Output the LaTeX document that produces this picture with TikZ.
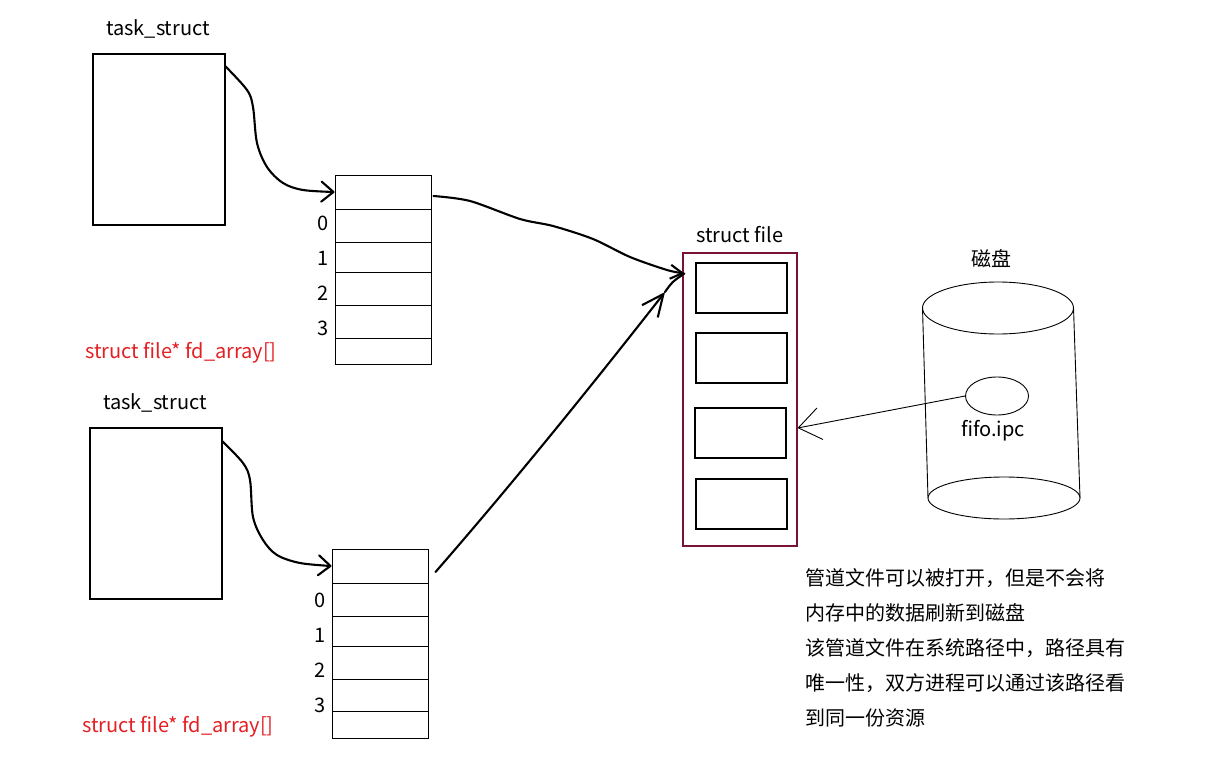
\documentclass[tikz,border=0pt]{standalone}
\usepackage{fontspec}
\setmainfont{Noto Sans CJK SC}
\usetikzlibrary{arrows.meta,shapes.geometric,calc}
\definecolor{labred}{RGB}{228,32,36}
\definecolor{maroon}{RGB}{122,18,52}
\begin{document}
\begin{tikzpicture}[x=1pt,y=1pt,
  tsbox/.style={draw=black,line width=1.1pt,minimum width=132pt,minimum height=171pt,inner sep=0pt},
  cell/.style={draw=black,line width=1pt,minimum width=96pt,inner sep=0pt},
  fbox/.style={draw=black,line width=1.1pt,minimum width=91pt,minimum height=50pt,inner sep=0pt},
  lbl/.style={font=\fontsize{20}{24}\selectfont,inner sep=0pt},
  redlbl/.style={lbl,text=labred,anchor=west},
  cntext/.style={font=\fontsize{20}{24}\selectfont,inner sep=0pt,anchor=west},
  hand/.style={line width=2.1pt,line cap=round,line join=round},
  cyl/.style={line width=0.9pt},
  handhead/.style={-{Straight Barb[length=12pt,width=20pt,line width=2.1pt,round]}}
]
\useasboundingbox[fill=white] (0,0) rectangle (1220,-765);

% task_struct boxes
\node[lbl] (tl1) at (158,-29) {task\_struct};
\node[tsbox] (ts1) at (159,-139.5) {};
\node[lbl] (tl2) at (155,-403) {task\_struct};
\node[tsbox] (ts2) at (156,-513.5) {};

% fd arrays
\foreach \n/\a/\b in {0/175/209,1/209/242,2/242/272,3/272/305,4/305/338,5/338/364}
  \node[cell,minimum height={\b-\a}] (ta\n) at (383,{-(\a+\b)/2}) {};
\foreach \n/\a/\b in {0/549/583,1/583/616,2/616/646,3/646/679,4/679/711,5/711/738}
  \node[cell,minimum height={\b-\a}] (tb\n) at (380,{-(\a+\b)/2}) {};

\foreach \d/\y in {0/223,1/258,2/293,3/328}
  \node[lbl] (na\d) at (323,-\y) {\d};
\foreach \d/\y in {0/600,1/635,2/670,3/705}
  \node[lbl] (nb\d) at (320,-\y) {\d};

\node[redlbl] (ra) at (85,-353) {struct file* fd\_array[]};
\node[redlbl] (rb) at (82,-727) {struct file* fd\_array[]};

% struct file
\node[lbl] (sfl) at (740,-235) {struct file};
\node[draw=maroon,line width=1.1pt,minimum width=114pt,minimum height=293pt,inner sep=0pt] (sf) at (740,-399.5) {};
\node[fbox] (f1) at (741.5,-288) {};
\node[fbox] (f2) at (741.5,-358) {};
\node[fbox] (f3) at (740.5,-433) {};
\node[fbox] (f4) at (741.5,-504) {};

% disk
\node[lbl] (dl) at (991,-259) {磁盘};
\draw[cyl] (998,-308) ellipse [x radius=75.5, y radius=26];
\draw[cyl] (1004,-498) ellipse [x radius=76, y radius=21];
\draw[cyl] (922.5,-308) -- (928,-498);
\draw[cyl] (1073.5,-308) -- (1080,-498);
\node[draw=black,line width=0.9pt,ellipse,minimum width=63pt,minimum height=38pt,inner sep=0pt] (fifo) at (997,-396) {};
\node[lbl] (fifol) at (993,-431) {fifo.ipc};

% connector end points
\coordinate (t1s) at ($(ts1.north east)+(0,-13)$);
\coordinate (t2s) at ($(ts2.north east)+(0,-14)$);
\coordinate (ta0s) at ($(ta0.east)+(2,-4)$);
\coordinate (tb0s) at ($(tb0.east)+(7,-6)$);
\coordinate (sfin) at ($(sf.north west)+(2,-21)$);
\coordinate (mid) at (665,-292);
\coordinate (fin) at ($(sf.east |- f3.center)+(0,5)$);

% hand drawn arrows
\draw[hand,handhead] plot[smooth,tension=0.55] coordinates
  {(t1s) (247,-90) (253,-107) (257,-143) (267,-167) (283,-183) (303,-190) (ta0.west)};
\draw[hand,handhead] plot[smooth,tension=0.55] coordinates
  {(t2s) (243,-463) (250,-480) (253,-517) (263,-540) (277,-555) (300,-563) (tb0.west)};
\draw[hand,-{Straight Barb[length=12pt,width=14pt,line width=2.1pt]}] plot[smooth,tension=0.5] coordinates
  {(ta0s) (470,-201) (520,-219) (553,-226) (593,-239) (630,-257) (667,-270) (sfin)};
\draw[hand,-{Straight Barb[length=22pt,width=20pt,line width=2.1pt]}] (tb0s)
  .. controls (520,-475) and (600,-375) .. (mid);
\draw[hand] (mid) .. controls (672,-282) .. (sfin);

\draw[line width=0.9pt,-{Straight Barb[length=22pt,width=32pt,line width=0.9pt]}] (fifo.west) -- (fin);

% notes
\node[cntext] (c1) at (805,-578) {管道文件可以被打开，但是不会将};
\node[cntext] (c2) at (805,-613) {内存中的数据刷新到磁盘};
\node[cntext] (c3) at (805,-648) {该管道文件在系统路径中，路径具有};
\node[cntext] (c4) at (805,-683) {唯一性，双方进程可以通过该路径看};
\node[cntext] (c5) at (805,-718) {到同一份资源};
\end{tikzpicture}
\end{document}
